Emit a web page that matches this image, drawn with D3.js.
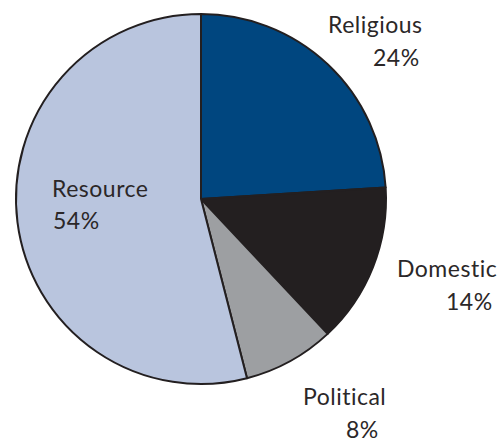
<!DOCTYPE html>
<html>
<head>
<meta charset="utf-8">
<script src="https://cdn.jsdelivr.net/npm/d3@7/dist/d3.min.js"></script>
<style>
  html, body { margin: 0; padding: 0; background: #fff; }
  svg { display: block; }
  .lbl { font-family: Lato, "Open Sans", sans-serif; font-size: 23px; font-weight: 400; letter-spacing: 0.5px; fill: #2b2728; }
</style>
</head>
<body>
<div id="chart"></div>
<script>
// data
const categories = ["Religious", "Domestic", "Political", "Resource"];
const shares = [24, 14, 8, 54];

const width = 503, height = 443;
const cx = 201, cy = 199, radius = 185;

const colors = ["#00467f", "#231f20", "#9d9fa2", "#b9c5de"];

// label placement (name line start x, baseline y; percent line start x, baseline y)
const labelLayout = {
  Religious: { nx: 328, ny: 33, px: 373, py: 66 },
  Domestic:  { nx: 397, ny: 277, px: 446, py: 310 },
  Political: { nx: 303, ny: 405, px: 346, py: 438 },
  Resource:  { nx: 52,  ny: 197, px: 53,  py: 229 }
};

const svg = d3.select("#chart").append("svg")
  .attr("width", width)
  .attr("height", height);

const rows = categories.map((c, i) => ({ name: c, value: shares[i], color: colors[i] }));

const pie = d3.pie().sort(null).value(d => d.value);
const arc = d3.arc().innerRadius(0).outerRadius(radius);

const g = svg.append("g").attr("transform", `translate(${cx},${cy})`);

g.selectAll("path")
  .data(pie(rows))
  .enter()
  .append("path")
  .attr("d", arc)
  .attr("fill", d => d.data.color)
  .attr("stroke", "#231f20")
  .attr("stroke-width", 2)
  .attr("stroke-linejoin", "round");

rows.forEach(d => {
  const p = labelLayout[d.name];
  svg.append("text").attr("class", "lbl").attr("x", p.nx).attr("y", p.ny).text(d.name);
  svg.append("text").attr("class", "lbl").attr("x", p.px).attr("y", p.py).text(d.value + "%");
});
</script>
</body>
</html>
